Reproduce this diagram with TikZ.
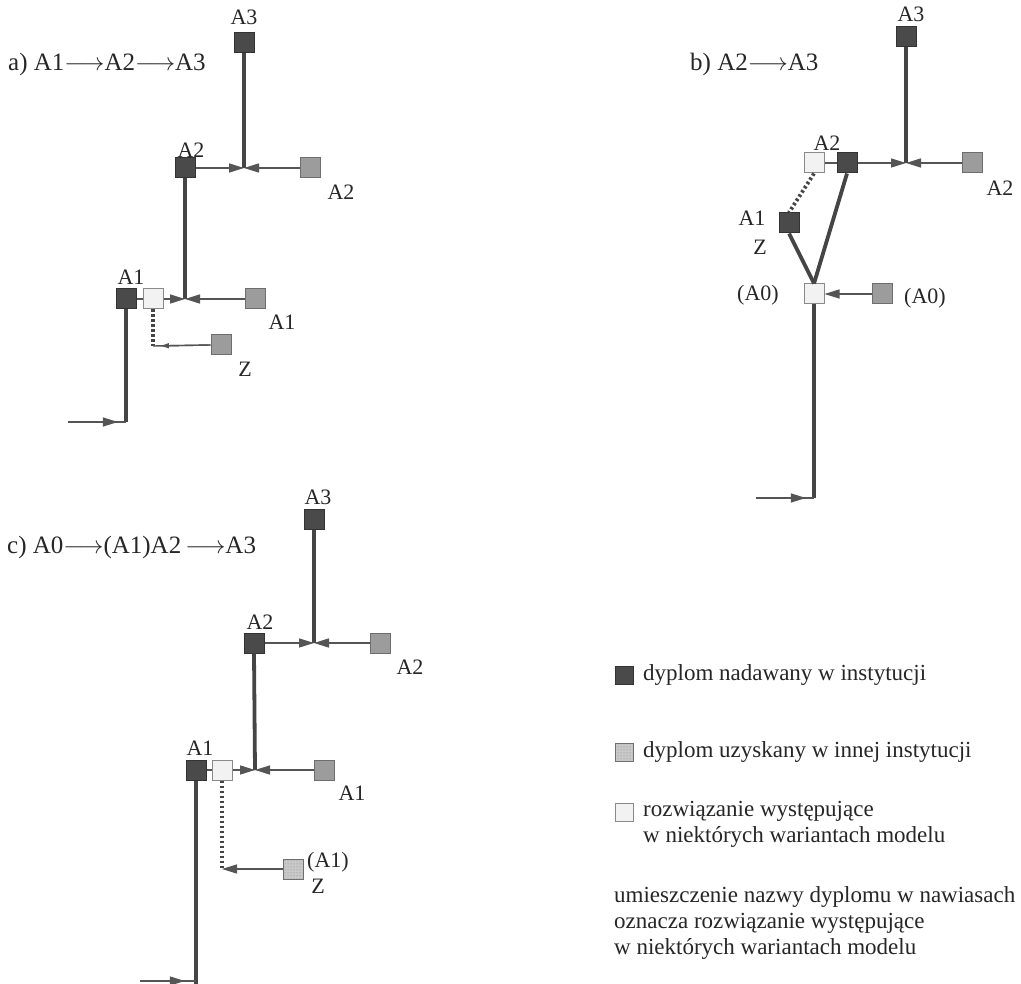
\documentclass[tikz,border=0pt]{standalone}
\usepackage{fontspec}
\setmainfont{Liberation Serif}
\usetikzlibrary{arrows.meta,decorations.markings,patterns}
\definecolor{dk}{HTML}{4A4A4A}
\definecolor{dkb}{HTML}{333333}
\definecolor{md}{HTML}{9C9C9C}
\definecolor{mdb}{HTML}{6E6E6E}
\definecolor{lt}{HTML}{F2F2F2}
\definecolor{ltb}{HTML}{8A8A8A}
\definecolor{ln}{HTML}{454545}
\definecolor{tn}{HTML}{555555}
\definecolor{tx}{HTML}{262626}
\tikzset{
  sq/.style={rectangle, minimum size=20pt, inner sep=0pt, line width=1pt},
  dksq/.style={sq, fill=dk, draw=dkb},
  mdsq/.style={sq, fill=md, draw=mdb},
  ltsq/.style={sq, fill=lt, draw=ltb},
  stsq/.style={sq, fill=md!55, draw=mdb, postaction={pattern=dots, pattern color=gray}},
  lbl/.style={font=\fontsize{22}{26}\selectfont, inner sep=0pt, text=tx},
  ttl/.style={font=\fontsize{25}{28}\selectfont, inner sep=0pt, anchor=west, text=tx},
  lgd/.style={font=\fontsize{23}{26}\selectfont, inner sep=0pt, text=tx, align=left},
  thk/.style={line width=3.8pt, draw=ln},
  thn/.style={line width=1.4pt, draw=tn},
  dtd/.style={line width=3.8pt, draw=ln, dash pattern=on 2.5pt off 2.5pt},
  arr/.style={thn, -{Triangle[length=15pt,width=9pt]}},
  sarr/.style={thn, -{Triangle[length=8pt,width=5pt]}},
  marr/.style={thn, postaction={decorate}, decoration={markings, mark=at position #1 with {\arrow{Triangle[length=15pt,width=9pt]}}}},
}
\begin{document}
\begin{tikzpicture}[x=1pt, y=-1pt]
\useasboundingbox[fill=white] (0,0) rectangle (1021,984);

% ---------------- panel a ----------------
\node[ttl] (ta) at (8,64) {a) A1$\longrightarrow$A2$\longrightarrow$A3};
\node[dksq] (a3) at (244,43) {};
\node[lbl] (la3) at (244,17) {A3};
\node[dksq] (a2) at (185,168) {};
\node[lbl] (la2) at (191,150) {A2};
\node[mdsq] (a2r) at (310,168) {};
\node[lbl] (la2r) at (341,192) {A2};
\coordinate (ja2) at (244,168);
\draw[thk] (a3.south) -- (ja2);
\draw[arr] (a2.east) -- (ja2);
\draw[arr] (a2r.west) -- (ja2);

\node[dksq] (a1) at (126,299) {};
\node[lbl] (la1) at (131,277) {A1};
\node[ltsq] (a1l) at (153,299) {};
\node[mdsq] (a1r) at (255,299) {};
\node[lbl] (la1r) at (282,322) {A1};
\coordinate (ja1) at (185,299);
\draw[thn] (a1.east) -- (a1l.west);
\draw[thk] (a2.south) -- (ja1);
\draw[arr] (a1l.east) -- (ja1);
\draw[arr] (a1r.west) -- (ja1);

\coordinate (za) at (153,346);
\draw[dtd] (a1l.south) -- (za);
\node[mdsq] (az) at (221,345) {};
\node[lbl] (laz) at (245,369) {Z};
\draw[sarr, shorten >=8pt] (az.west) -- (za);
\draw[thn] (az.west) -- (za);

\coordinate (ba) at (126,422);
\coordinate (sa) at (68,422);
\draw[thk] (a1.south) -- (ba);
\draw[marr=0.86] (sa) -- (ba);

% ---------------- panel b ----------------
\node[ttl] (tb) at (690,64) {b) A2$\longrightarrow$A3};
\node[dksq] (b3) at (906,37) {};
\node[lbl] (lb3) at (911,14) {A3};
\coordinate (jb) at (906,163);
\node[ltsq] (b2l) at (814,163) {};
\node[lbl] (lb2) at (827,143) {A2};
\node[dksq] (b2) at (847,163) {};
\node[mdsq] (b2r) at (972,163) {};
\node[lbl] (lb2r) at (1000,188) {A2};
\draw[thn] (b2l.east) -- (b2.west);
\draw[thk] (b3.south) -- (jb);
\draw[arr] (b2.east) -- (jb);
\draw[arr] (b2r.west) -- (jb);

\node[dksq] (b1) at (789,223) {};
\node[lbl] (lb1) at (752,218) {A1};
\node[lbl] (lbz) at (760,247) {Z};
\draw[dtd] (b2l.south) -- (b1.north);

\node[ltsq] (b0) at (814,294) {};
\node[lbl] (lb0) at (758,295) {(A0)};
\node[mdsq] (b0r) at (882,294) {};
\node[lbl] (lb0r) at (925,298) {(A0)};
\draw[thk] (b1.south) -- (b0.north);
\draw[thk] (b2.south) -- (b0.north);
\draw[arr] (b0r.west) -- (b0.east);

\coordinate (bb) at (814,498);
\coordinate (sb) at (756,498);
\draw[thk] (b0.south) -- (bb);
\draw[marr=0.86] (sb) -- (bb);

% ---------------- panel c ----------------
\node[ttl] (tc) at (7,547) {c) A0$\longrightarrow$(A1)A2$\,\longrightarrow$A3};
\node[dksq] (c3) at (314,519) {};
\node[lbl] (lc3) at (318,497) {A3};
\coordinate (jc2) at (314,643);
\node[dksq] (c2) at (254,643) {};
\node[lbl] (lc2) at (260,622) {A2};
\node[mdsq] (c2r) at (380,643) {};
\node[lbl] (lc2r) at (410,667) {A2};
\draw[thk] (c3.south) -- (jc2);
\draw[arr] (c2.east) -- (jc2);
\draw[arr] (c2r.west) -- (jc2);

\node[dksq] (c1) at (196,770) {};
\node[lbl] (lc1) at (200,748) {A1};
\node[ltsq] (c1l) at (222,770) {};
\node[mdsq] (c1r) at (324,770) {};
\node[lbl] (lc1r) at (352,793) {A1};
\coordinate (jc1) at (255,770);
\draw[thn] (c1.east) -- (c1l.west);
\draw[thk] (c2.south) -- (jc1);
\draw[arr] (c1l.east) -- (jc1);
\draw[arr] (c1r.west) -- (jc1);

\coordinate (zc) at (222,869);
\draw[dtd] (c1l.south) -- (zc);
\node[stsq] (cz) at (293,869) {};
\node[lbl, anchor=west] (lcz) at (307,862) {(A1)};
\node[lbl] (lczz) at (318,886) {Z};
\draw[arr] (cz.west) -- (zc);

\coordinate (bc) at (196,981);
\coordinate (bce) at (196,984);
\coordinate (sc) at (140,981);
\draw[thk] (c1.south) -- (bce);
\draw[marr=0.8] (sc) -- (bc);

% ---------------- legend ----------------
\node[dksq, minimum size=18pt] (l1) at (624,675) {};
\node[lgd, anchor=west] (t1) at (643,675) {dyplom nadawany w instytucji};
\node[stsq, minimum size=18pt] (l2) at (624,752) {};
\node[lgd, anchor=west] (t2) at (643,752) {dyplom uzyskany w innej instytucji};
\node[ltsq, minimum size=18pt] (l3) at (624,812) {};
\node[lgd, anchor=north west] (t3) at (643,801) {rozwiązanie występujące\\w niektórych wariantach modelu};
\node[lgd, anchor=north west] (t4) at (614,886) {umieszczenie nazwy dyplomu w nawiasach\\oznacza rozwiązanie występujące\\w niektórych wariantach modelu};
\end{tikzpicture}
\end{document}
